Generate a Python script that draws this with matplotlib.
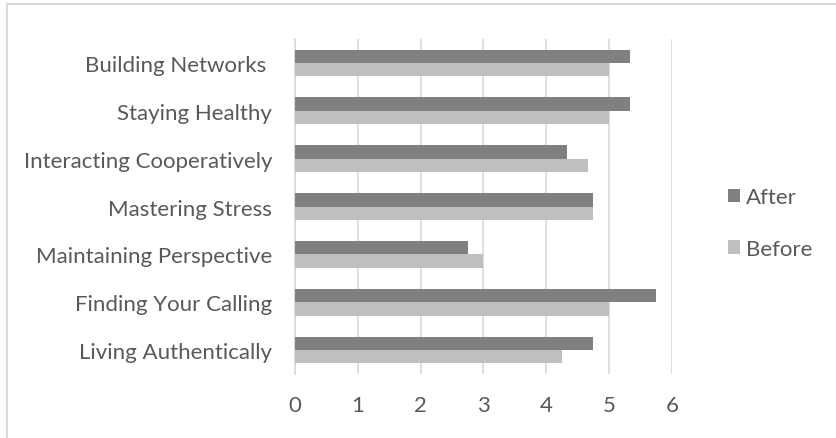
import numpy as np
import matplotlib.pyplot as plt
from matplotlib.lines import Line2D

plt.rcParams['font.family'] = ['Lato', 'DejaVu Sans']

# skill areas, listed bottom to top
categories = ['Living Authentically', 'Finding Your Calling', 'Maintaining Perspective',
              'Mastering Stress', 'Interacting Cooperatively', 'Staying Healthy',
              'Building Networks ']
after = [4.75, 5.75, 2.75, 4.75, 4.33, 5.33, 5.33]
before = [4.25, 5.0, 3.0, 4.75, 4.67, 5.0, 5.0]
xticks = [0, 1, 2, 3, 4, 5, 6]

fig = plt.figure(figsize=(8.37, 4.39), dpi=100)
ax = fig.add_axes([295/837, 1-375/439, (672-295)/837, (375-40)/439])

y = np.arange(len(categories))
h = 0.28
ax.barh(y + h/2, after, height=h, color='#808080', label='After', zorder=3)
ax.barh(y - h/2, before, height=h, color='#bfbfbf', label='Before', zorder=3)

ax.set_xlim(0, 6)
ax.set_ylim(-0.5, len(categories) - 0.5)
ax.set_xticks(xticks)
ax.set_yticks(y)
ax.set_yticklabels(categories)
ax.tick_params(axis='both', length=0, labelsize=16, colors='#595959')
ax.tick_params(axis='x', pad=15)
ax.tick_params(axis='y', pad=16.5)
ax.grid(axis='x', color='#d9d9d9', linewidth=1.2, zorder=0)
for s in ['top', 'right', 'bottom']:
    ax.spines[s].set_visible(False)
ax.spines['left'].set_color('#d9d9d9')
ax.spines['left'].set_linewidth(1.2)

leg = ax.legend(loc='center left', bbox_to_anchor=(1.149, 0.45), frameon=False,
                fontsize=16, handlelength=0.55, handleheight=0.55,
                handletextpad=0.25, labelspacing=1.42, borderaxespad=0, borderpad=0)
for t in leg.get_texts():
    t.set_color('#595959')

# outer chart frame (top and left edges)
fig.add_artist(Line2D([7/837, 1], [1-5/439, 1-5/439], color='#d9d9d9', linewidth=1.5))
fig.add_artist(Line2D([7/837, 7/837], [0, 1-5/439], color='#d9d9d9', linewidth=1.5))

fig.savefig('out.png', dpi=100)
